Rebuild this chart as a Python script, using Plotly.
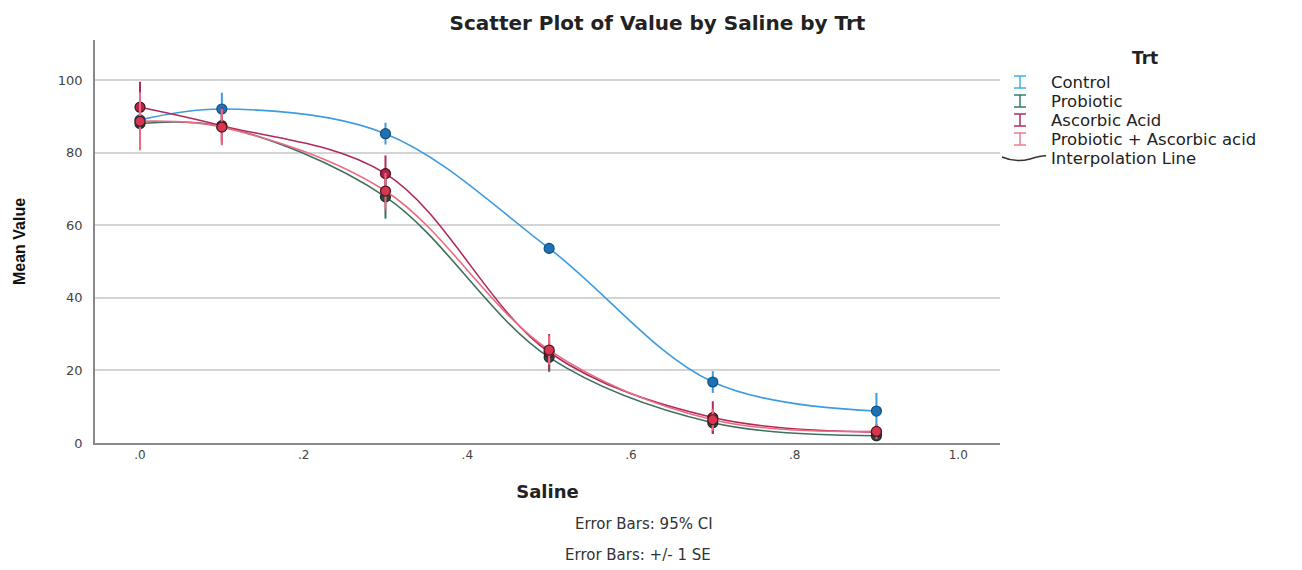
import plotly.graph_objects as go

# Saline levels and group means with error-bar half-widths
saline = [0.0, 0.1, 0.3, 0.5, 0.7, 0.9]

control = [89.0, 92.0, 85.2, 53.6, 16.8, 8.8]
control_err = [3.0, 4.5, 3.0, 1.5, 3.0, 5.0]

probiotic = [88.0, 87.2, 67.8, 23.6, 5.6, 2.0]
probiotic_err = [5.0, 4.0, 6.0, 4.0, 3.0, 1.5]

ascorbic = [92.5, 87.4, 74.2, 25.0, 7.0, 3.0]
ascorbic_err = [7.0, 5.0, 5.0, 5.0, 4.5, 2.0]

prob_asc = [88.6, 87.0, 69.4, 25.6, 6.4, 3.2]
prob_asc_err = [8.0, 5.0, 5.0, 4.0, 3.0, 2.0]

x_tickvals = [0.0, 0.2, 0.4, 0.6, 0.8, 1.0]
x_ticktext = [".0", ".2", ".4", ".6", ".8", "1.0"]
y_tickvals = [0, 20, 40, 60, 80, 100]

groups = [
    ("Control", control, control_err, "#3d9be0", "#1c72b5", "#14507f"),
    ("Probiotic", probiotic, probiotic_err, "#3f6f60", "#2f4a42", "#1d2b27"),
    ("Ascorbic Acid", ascorbic, ascorbic_err, "#b02a5b", "#b52448", "#3b1420"),
    ("Probiotic + Ascorbic acid", prob_asc, prob_asc_err, "#ec6a80", "#d8364f", "#4a1a22"),
]
legend_colors = ["#3db0e8", "#2e7d6b", "#b02a66", "#ee7d8c"]

FONT = "DejaVu Sans, Verdana, sans-serif"

# Plot area in pixels (used to place the hand-built legend in paper units)
PL, PR, PT, PB = 95, 1000, 40, 443


def px_x(px):
    return (px - PL) / (PR - PL)


def px_y(py):
    return (PB - py) / (PB - PT)


fig = go.Figure()

for name, vals, errs, line_c, fill_c, edge_c in groups:
    fig.add_trace(go.Scatter(
        x=saline, y=vals, mode="lines+markers",
        line=dict(color=line_c, width=1.6, shape="spline", smoothing=1.0),
        marker=dict(size=10, color=fill_c, line=dict(color=edge_c, width=1.2)),
        error_y=dict(type="data", array=errs, visible=True,
                     color=line_c, thickness=2, width=0),
        showlegend=False, hoverinfo="x+y+name", name=name,
    ))

# Legend: title, error-bar glyphs and labels, then the interpolation line key
annotations = [
    dict(text="<b>Trt</b>", xref="paper", yref="paper",
         x=px_x(1145), y=px_y(58), xanchor="center", yanchor="middle",
         showarrow=False, font=dict(size=17, color="#222222")),
]
shapes = []
row_y = [82, 101, 120, 139, 158]
labels = [g[0] for g in groups] + ["Interpolation Line"]
for i, (label, ry) in enumerate(zip(labels, row_y)):
    annotations.append(dict(
        text=label, xref="paper", yref="paper", x=px_x(1049), y=px_y(ry),
        xanchor="left", yanchor="middle", showarrow=False,
        font=dict(size=16.5, color="#222222")))
    if i < len(legend_colors):
        col = legend_colors[i]
        cx = 1020
        for (x0, y0, x1, y1) in [(cx, ry - 6, cx, ry + 6),
                                 (cx - 6, ry - 6, cx + 6, ry - 6),
                                 (cx - 6, ry + 6, cx + 6, ry + 6)]:
            shapes.append(dict(type="line", xref="paper", yref="paper",
                               x0=px_x(x0), y0=px_y(y0), x1=px_x(x1), y1=px_y(y1),
                               line=dict(color=col, width=1.5)))
    else:
        path = "M {} {} Q {} {} {} {} T {} {}".format(
            px_x(1002), px_y(ry - 1), px_x(1016), px_y(ry + 5),
            px_x(1030), px_y(ry + 1), px_x(1046), px_y(ry - 2))
        shapes.append(dict(type="path", xref="paper", yref="paper", path=path,
                           line=dict(color="#333333", width=1.5)))

annotations += [
    dict(text="Error Bars: 95% CI", xref="paper", yref="paper",
         x=0.607, y=-0.2, yanchor="middle", showarrow=False,
         font=dict(size=15, color="#333333")),
    dict(text="Error Bars: +/- 1 SE", xref="paper", yref="paper",
         x=0.6, y=-0.277, yanchor="middle", showarrow=False,
         font=dict(size=15, color="#333333")),
]

fig.update_layout(
    width=1302, height=570,
    paper_bgcolor="white", plot_bgcolor="white",
    margin=dict(l=PL, r=1302 - PR, t=PT, b=570 - PB),
    font=dict(family=FONT, size=13, color="#222222"),
    showlegend=False,
    title=dict(text="<b>Scatter Plot of Value by Saline by Trt</b>",
               x=0.505, xanchor="center", y=0.96, yanchor="middle",
               font=dict(size=20, color="#222222")),
    xaxis=dict(range=[-0.055, 1.051], tickvals=x_tickvals, ticktext=x_ticktext,
               showgrid=False, zeroline=False, showline=True,
               linecolor="#8a8a8a", linewidth=1.5, ticks="",
               tickfont=dict(size=12, color="#444444"),
               title=dict(text="<b>Saline</b>", font=dict(size=18, color="#222222"),
                          standoff=24)),
    yaxis=dict(range=[0, 111], tickvals=y_tickvals,
               showgrid=True, gridcolor="#d4d4d4", gridwidth=1.5,
               zeroline=False, showline=True, linecolor="#8a8a8a", linewidth=1.5,
               ticks="", tickfont=dict(size=13, color="#444444"), ticklabelstandoff=8,
               title=dict(text="<b>Mean Value</b>",
                          font=dict(size=16, color="#111111",
                                    family="Liberation Sans Narrow, Liberation Sans, Arial"),
                          standoff=28)),
    annotations=annotations,
    shapes=shapes,
)

fig.write_html("out.html")
